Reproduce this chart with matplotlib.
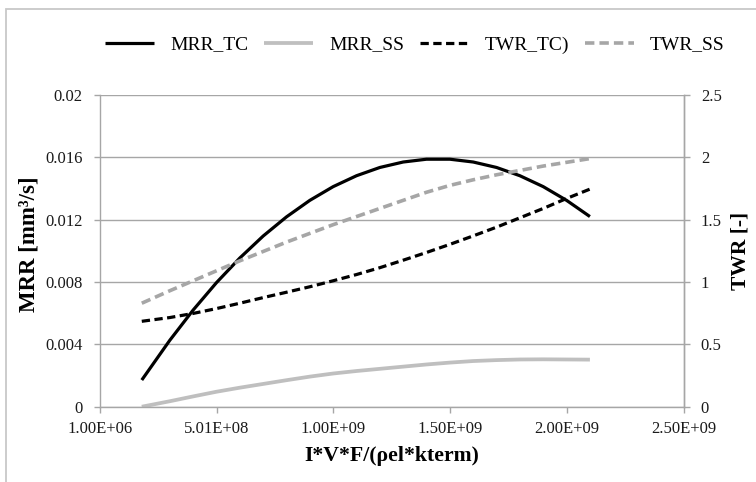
import matplotlib
matplotlib.use('Agg')
import matplotlib.pyplot as plt
from matplotlib.patches import Rectangle
from matplotlib.ticker import FuncFormatter

# Data - values, x in I*V*F/(rho_el*k_term)
x_vals = [1.8e8, 3.0e8, 4.0e8, 5.0e8, 6.0e8, 7.0e8, 8.0e8, 9.0e8, 1.0e9, 1.1e9,
          1.2e9, 1.3e9, 1.4e9, 1.5e9, 1.6e9, 1.7e9, 1.8e9, 1.9e9, 2.0e9, 2.1e9]
mrr_tc = [0.00171, 0.00426, 0.00620, 0.00796, 0.00954, 0.01095, 0.01218, 0.01324, 0.01412, 0.01482,
          0.01535, 0.01570, 0.01588, 0.01588, 0.01570, 0.01535, 0.01482, 0.01412, 0.01324, 0.01220]
mrr_ss = [0.00000, 0.00035, 0.00066, 0.00096, 0.00122, 0.00146, 0.00170, 0.00193, 0.00213, 0.00229,
          0.00243, 0.00257, 0.00271, 0.00283, 0.00293, 0.00299, 0.00303, 0.00304, 0.00303, 0.00302]
twr_tc = [0.685, 0.715, 0.748, 0.787, 0.830, 0.875, 0.918, 0.962, 1.010, 1.060,
          1.115, 1.175, 1.237, 1.302, 1.370, 1.440, 1.515, 1.590, 1.670, 1.745]
twr_ss = [0.830, 0.930, 1.010, 1.090, 1.170, 1.245, 1.320, 1.390, 1.460, 1.525,
          1.590, 1.655, 1.720, 1.775, 1.820, 1.860, 1.895, 1.930, 1.960, 1.990]

x_ticks = [1e6, 5.01e8, 1.001e9, 1.501e9, 2.001e9, 2.501e9]
left_ticks = [0, 0.004, 0.008, 0.012, 0.016, 0.02]
right_ticks = [0, 0.5, 1, 1.5, 2, 2.5]

# Style
plt.rcParams['font.family'] = ['Liberation Serif', 'DejaVu Serif']
grid_col = '#a6a6a6'
gray_line = '#bfbfbf'
gray_dash = '#a6a6a6'
lw = 2.3
dash = (2.6, 1.4)

fig = plt.figure(figsize=(7.56, 4.82), dpi=100)

# outer frame of the chart area
fig.patches.append(Rectangle((6 / 756, -0.1), 1.2, 1 - 9 / 482 + 0.1, transform=fig.transFigure,
                             facecolor='none', edgecolor='#c8c8c8', linewidth=1.3))

ax = fig.add_axes([100 / 756, 1 - 406.7 / 482, 583.5 / 756, 311.7 / 482])
ax2 = ax.twinx()

l1, = ax.plot(x_vals, mrr_tc, color='black', lw=lw, label='MRR_TC', solid_capstyle='butt')
l2, = ax.plot(x_vals, mrr_ss, color=gray_line, lw=lw + 0.4, label='MRR_SS', solid_capstyle='butt')
l3, = ax2.plot(x_vals, twr_tc, color='black', lw=lw, dashes=dash, label='TWR_TC)')
l4, = ax2.plot(x_vals, twr_ss, color=gray_dash, lw=lw + 0.3, dashes=dash, label='TWR_SS')

# axes limits and ticks
ax.set_xlim(1e6, 2.501e9)
ax.set_ylim(0, 0.02)
ax2.set_ylim(0, 2.5)
ax.set_xticks(x_ticks)
ax.set_yticks(left_ticks)
ax2.set_yticks(right_ticks)
ax.xaxis.set_major_formatter(FuncFormatter(lambda v, p: '{:.2E}'.format(v)))
ax.yaxis.set_major_formatter(FuncFormatter(lambda v, p: '0' if v == 0 else '{:g}'.format(v)))
ax2.yaxis.set_major_formatter(FuncFormatter(lambda v, p: '{:g}'.format(v)))

ax.grid(axis='y', color=grid_col, linewidth=1.0)
ax.set_axisbelow(True)

for a in (ax, ax2):
    a.spines['top'].set_visible(False)
    for s in ('left', 'right', 'bottom'):
        a.spines[s].set_color(grid_col)
        a.spines[s].set_linewidth(1.0)
    a.tick_params(colors=grid_col, labelcolor='#1a1a1a', labelsize=12, length=4.5, width=1.0)
ax.tick_params(axis='y', pad=8)
ax.tick_params(axis='x', pad=6)
ax2.tick_params(axis='y', pad=8)
ax2.spines['left'].set_visible(False)
ax2.spines['bottom'].set_visible(False)

ax.set_xlabel('I*V*F/(ρel*kterm)', fontsize=15.7, fontweight='bold')
ax.set_ylabel('MRR [mm³/s]', fontsize=16.5, fontweight='bold')
ax2.set_ylabel('TWR [-]', fontsize=15.5, fontweight='bold')
ax.xaxis.set_label_coords(0.5, -0.125)
ax.yaxis.set_label_coords(-0.103, 0.52)
ax2.yaxis.set_label_coords(1.081, 0.5)

leg = fig.legend(handles=[l1, l2, l3, l4], ncol=4, loc='center', bbox_to_anchor=(0.549, 0.907),
                 frameon=False, fontsize=14, handlelength=2.5, handletextpad=0.85,
                 columnspacing=0.8)

fig.savefig('out.png', dpi=100)
